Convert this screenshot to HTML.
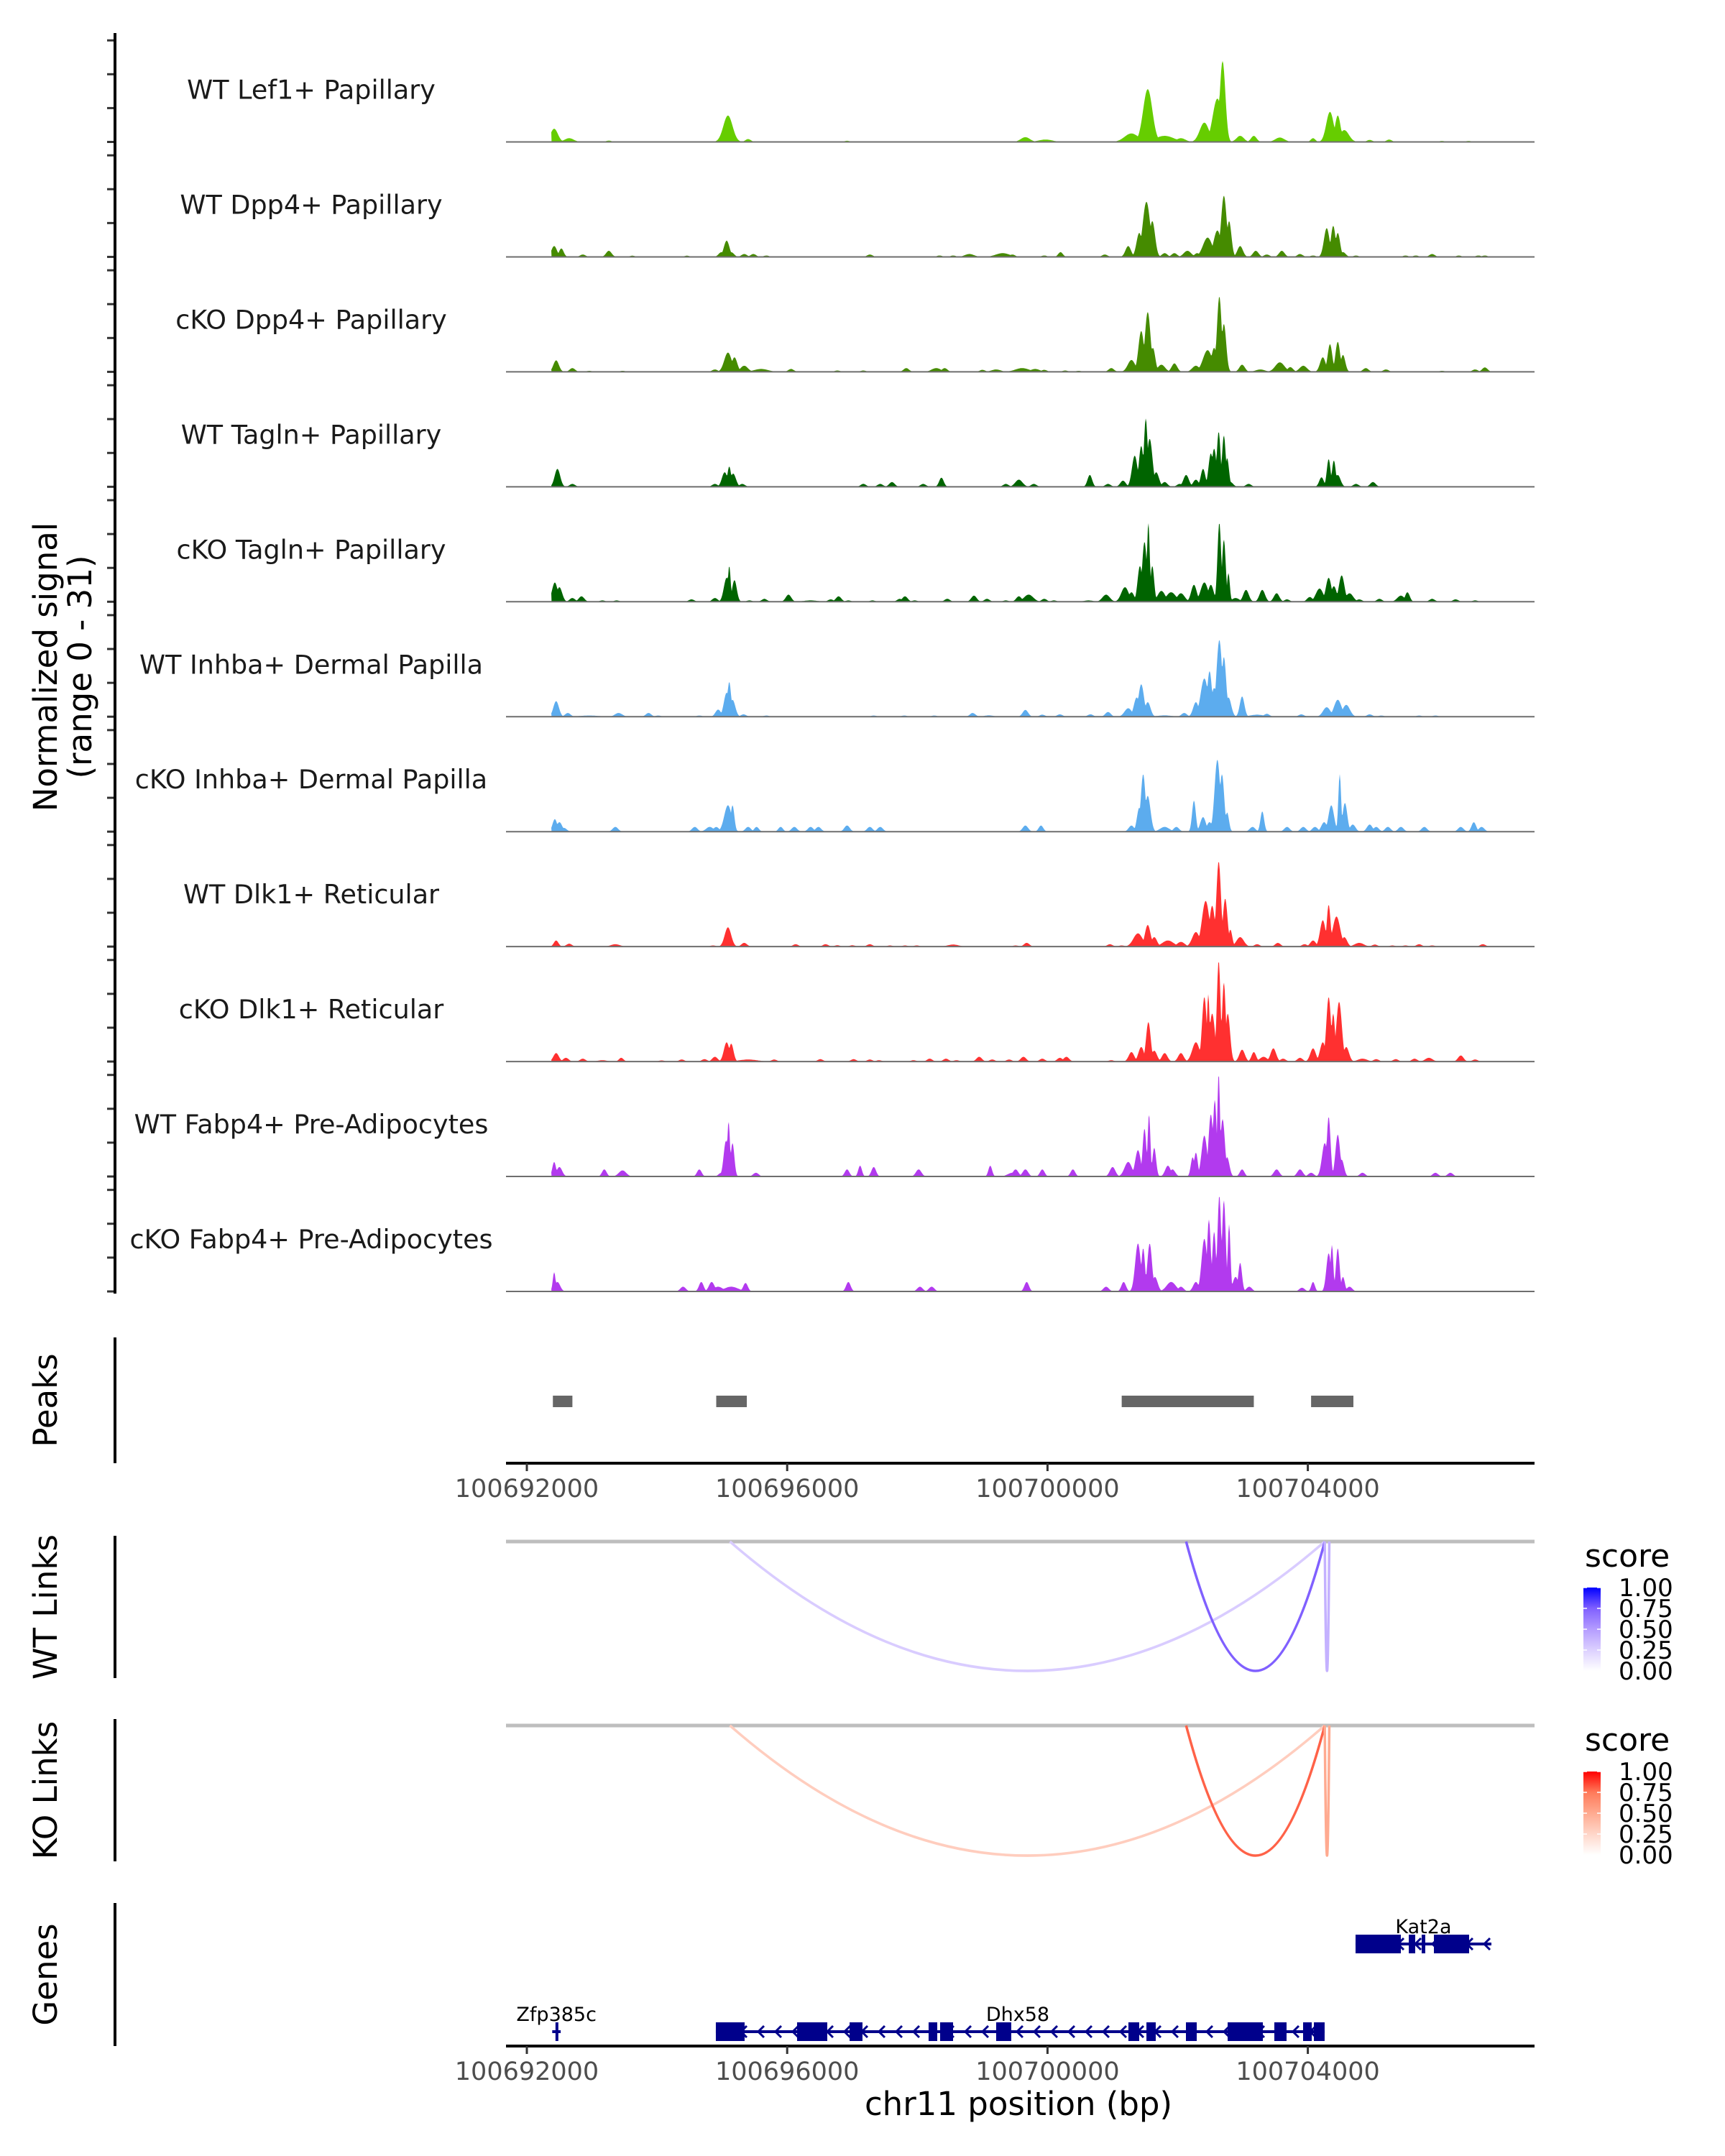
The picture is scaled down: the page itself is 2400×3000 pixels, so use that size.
<!DOCTYPE html>
<html><head><meta charset="utf-8"><style>
html,body{margin:0;padding:0;background:#fff;}
svg{display:block;}
text{font-family:"DejaVu Sans","Liberation Sans",sans-serif;}
</style></head><body>
<svg id="fig" xmlns="http://www.w3.org/2000/svg" width="2400" height="3000" viewBox="0 0 2400 3000">
<rect x="0" y="0" width="2400" height="3000" fill="#fff"/>
<g id="tracks"></g>
<g id="lower"></g>
</svg>
<script>
// ---- data (positions in kb offset from 100,690,000; signal 0-31; width in bp) ----
const trackNames = ["WT Lef1+ Papillary","WT Dpp4+ Papillary","cKO Dpp4+ Papillary","WT Tagln+ Papillary","cKO Tagln+ Papillary","WT Inhba+ Dermal Papilla","cKO Inhba+ Dermal Papilla","WT Dlk1+ Reticular","cKO Dlk1+ Reticular","WT Fabp4+ Pre-Adipocytes","cKO Fabp4+ Pre-Adipocytes"];
const trackColors = ["#66CD00","#458B00","#458B00","#006400","#006400","#5CACEE","#5CACEE","#FF3030","#FF3030","#B23AEE","#B23AEE"];
const lef1WT = [[2.42,3.9,80],[2.65,1.1,100],[3.26,0.4,60],[5.09,7.8,100],[5.40,0.85,60],[6.92,0.35,60],[9.66,1.4,100],[9.97,0.7,150],[11.29,2.5,150],[11.54,15.6,100],[11.80,1.8,200],[12.05,1.1,100],[12.41,5.7,100],[12.56,7.4,50],[12.61,12.8,100],[12.69,23.9,60],[12.96,1.8,80],[13.17,1.8,60],[13.57,1.3,100],[14.08,1.1,50],[14.34,8.9,80],[14.46,7.8,60],[14.56,3.5,100],[14.95,0.6,60],[15.25,0.7,60],[16.06,0.3,60],[16.47,0.3,60]];
const dpp4WT = [[2.42,3.2,60],[2.53,2.5,50],[2.86,0.7,60],[3.26,1.8,60],[3.62,0.35,60],[4.46,0.35,60],[4.99,1.4,60],[5.07,4.8,60],[5.14,1.4,60],[5.34,0.85,60],[5.48,0.85,60],[5.68,0.4,60],[7.27,0.7,60],[8.34,0.4,60],[8.55,0.4,60],[8.80,0.85,100],[9.31,1.1,150],[9.46,0.7,60],[9.95,0.4,60],[10.20,1.4,50],[10.88,0.7,60],[11.24,3.2,60],[11.41,7.1,60],[11.52,16.3,80],[11.61,10.6,60],[11.80,1.1,60],[11.95,1.1,60],[12.15,1.8,80],[12.30,1.1,60],[12.46,5.7,100],[12.61,7.8,80],[12.71,18.1,60],[12.79,10.6,50],[12.96,3.2,60],[13.20,1.8,60],[13.37,0.7,60],[13.60,1.8,60],[13.88,0.85,60],[14.08,0.4,60],[14.29,8.5,60],[14.39,9.2,50],[14.46,7.1,50],[14.54,1.4,60],[14.74,0.4,60],[15.50,0.4,60],[15.66,0.4,60],[15.91,0.85,60],[16.32,0.4,60],[16.62,0.4,60],[16.72,0.4,60]];
const dpp4KO = [[2.45,3.4,60],[2.70,1.1,60],[2.96,0.3,60],[3.47,0.3,60],[4.89,0.7,60],[5.09,5.7,80],[5.19,4.3,60],[5.34,1.8,80],[5.60,0.85,150],[6.06,0.85,60],[6.77,0.4,60],[7.17,0.4,60],[7.83,1.1,60],[8.29,1.1,100],[8.42,1.1,60],[9.00,0.6,60],[9.21,0.7,100],[9.61,1.1,150],[9.81,0.85,100],[9.95,0.6,60],[10.27,0.4,60],[10.48,0.3,60],[10.98,1.1,60],[11.29,3.5,80],[11.44,12.1,60],[11.54,17.7,60],[11.62,7.1,50],[11.75,2.1,80],[11.95,2.5,60],[12.28,1.8,80],[12.46,6.4,100],[12.56,7.1,60],[12.64,22.3,50],[12.71,14.2,50],[12.99,2.1,60],[13.27,0.7,100],[13.57,2.8,100],[13.73,1.4,60],[13.93,1.8,80],[14.23,4.3,60],[14.34,8.2,50],[14.46,8.9,50],[14.54,5.0,50],[14.89,1.1,60],[15.20,0.7,60],[16.06,0.3,60],[16.57,0.7,60],[16.72,1.3,60]];
const taglnWT = [[2.47,5.3,60],[2.70,0.85,60],[4.89,0.85,60],[5.04,4.3,60],[5.11,6.0,40],[5.17,3.9,60],[5.31,0.85,60],[7.17,0.85,60],[7.43,0.85,60],[7.61,1.4,60],[8.09,0.85,60],[8.37,2.7,50],[9.36,0.85,60],[9.56,2.1,80],[9.79,0.85,60],[10.65,3.5,50],[10.93,0.85,60],[11.16,1.8,60],[11.34,9.2,60],[11.44,12.1,50],[11.51,20.2,40],[11.57,14.2,60],[11.67,4.3,60],[11.80,1.4,60],[12.03,0.85,60],[12.13,3.5,60],[12.28,2.1,60],[12.39,5.3,50],[12.51,9.9,50],[12.56,11.3,50],[12.63,16.3,40],[12.71,15.2,40],[12.76,8.5,40],[12.81,1.4,60],[13.09,0.85,60],[14.21,2.8,50],[14.32,8.2,40],[14.40,7.8,40],[14.46,3.5,60],[14.74,0.85,60],[15.00,1.4,60]];
const taglnKO = [[2.43,5.7,60],[2.50,4.3,60],[2.70,1.1,60],[2.84,1.6,60],[3.16,0.4,60],[3.38,0.4,60],[4.53,0.7,60],[4.89,1.1,60],[5.07,7.1,60],[5.11,10.6,30],[5.19,6.4,50],[5.42,0.4,60],[5.65,0.85,60],[6.02,2.1,60],[6.36,0.4,150],[6.67,0.7,60],[6.79,1.6,60],[6.94,0.4,60],[7.31,0.4,60],[7.73,0.85,60],[7.81,1.6,60],[7.96,0.4,60],[8.46,0.85,60],[8.87,1.8,60],[9.07,0.85,60],[9.36,0.4,60],[9.56,1.6,60],[9.71,2.1,100],[9.95,0.85,60],[10.10,0.4,60],[10.63,0.4,100],[10.90,2.1,80],[11.19,4.3,80],[11.29,2.8,60],[11.42,10.6,50],[11.49,17.7,50],[11.55,23.4,30],[11.61,10.6,40],[11.75,3.2,80],[11.90,2.8,100],[12.05,2.5,80],[12.25,5.0,60],[12.41,5.7,80],[12.51,5.0,60],[12.64,23.4,40],[12.71,18.4,40],[12.78,8.5,30],[12.89,1.1,80],[13.05,3.5,60],[13.30,3.5,60],[13.52,2.5,60],[13.68,0.7,60],[14.03,1.4,60],[14.18,3.9,80],[14.32,7.1,60],[14.40,4.6,60],[14.52,7.8,60],[14.64,2.5,80],[14.79,0.7,60],[15.10,0.85,60],[15.43,1.8,80],[15.53,2.8,50],[15.91,0.85,60],[16.27,0.7,60],[16.57,0.4,60]];
const inhbaWT = [[2.45,4.6,60],[2.63,1.1,60],[2.96,0.35,200],[3.41,1.1,80],[3.87,1.1,60],[4.02,0.35,60],[4.65,0.35,60],[4.94,2.1,60],[5.07,7.1,60],[5.11,10.3,40],[5.16,5.0,60],[5.33,0.7,60],[5.68,0.35,60],[7.33,0.35,60],[7.80,0.35,60],[8.26,0.35,60],[8.85,1.1,60],[9.10,0.4,100],[9.66,2.0,60],[9.92,0.6,60],[10.19,0.7,60],[10.66,0.7,60],[10.93,1.4,60],[11.24,2.5,80],[11.37,5.7,60],[11.44,9.6,60],[11.54,4.3,60],[11.80,0.4,150],[12.10,1.1,60],[12.28,4.3,60],[12.41,11.3,80],[12.49,13.5,50],[12.56,8.5,60],[12.64,22.7,60],[12.71,17.7,50],[12.78,5.7,60],[12.99,6.0,50],[13.22,0.6,150],[13.37,0.85,60],[13.90,0.7,60],[14.29,2.8,80],[14.46,5.0,80],[14.59,3.5,80],[14.95,0.7,60],[15.13,0.35,60],[15.71,0.35,60],[15.96,0.35,60]];
const inhbaKO = [[2.43,3.7,50],[2.50,2.8,60],[2.57,1.1,60],[3.36,1.4,60],[4.58,1.4,60],[4.81,1.4,80],[4.91,1.4,60],[5.09,7.8,80],[5.16,7.8,40],[5.40,1.4,60],[5.53,1.4,50],[5.90,1.4,50],[6.11,1.4,60],[6.36,1.4,60],[6.48,1.4,60],[6.92,1.8,60],[7.27,1.4,60],[7.43,1.4,60],[9.66,1.8,60],[9.90,1.8,50],[11.29,1.8,60],[11.41,7.1,50],[11.47,17.0,50],[11.54,10.6,60],[11.80,1.4,100],[11.98,1.4,60],[12.25,9.2,40],[12.39,4.3,60],[12.49,2.8,60],[12.61,21.3,60],[12.68,17.0,50],[12.76,5.7,40],[13.15,1.4,60],[13.30,6.0,40],[13.68,1.4,60],[13.93,1.4,60],[14.11,1.4,60],[14.25,2.8,60],[14.36,7.8,60],[14.49,17.0,30],[14.57,8.5,50],[14.69,2.1,60],[14.95,2.1,60],[15.05,1.4,60],[15.23,1.4,60],[15.43,1.4,60],[15.79,1.4,60],[16.35,1.4,60],[16.55,2.8,50],[16.67,1.4,60]];
const dlk1WT = [[2.45,1.8,50],[2.65,0.85,60],[3.36,0.7,100],[4.86,0.35,60],[5.09,5.7,70],[5.34,1.1,60],[6.13,0.7,60],[6.59,0.7,60],[6.77,0.4,60],[7.00,0.4,60],[7.27,0.7,60],[7.58,0.35,60],[7.81,0.35,60],[7.99,0.35,60],[8.55,0.6,120],[9.51,0.35,60],[9.68,1.1,60],[10.96,0.7,60],[11.14,0.35,60],[11.39,3.9,100],[11.54,6.4,60],[11.64,2.8,60],[11.85,1.8,120],[12.05,1.4,80],[12.28,4.3,80],[12.43,13.5,80],[12.53,12.1,60],[12.63,25.2,50],[12.73,14.2,50],[12.81,5.0,40],[12.96,2.8,80],[13.22,0.7,60],[13.54,1.1,60],[13.95,0.7,60],[14.08,1.8,60],[14.23,7.8,60],[14.32,12.4,40],[14.44,8.9,80],[14.56,2.8,60],[14.79,1.1,100],[15.03,0.6,60],[15.30,0.35,60],[15.50,0.35,60],[15.71,0.7,60],[15.91,0.35,60],[16.69,0.7,60]];
const dlk1KO = [[2.45,2.5,60],[2.60,1.1,60],[2.86,0.85,60],[3.16,0.4,100],[3.45,1.1,50],[4.07,0.35,60],[4.38,0.6,60],[4.73,0.7,60],[4.89,1.4,60],[5.07,5.7,60],[5.14,5.3,50],[5.40,0.6,200],[5.80,0.6,60],[6.51,0.7,60],[7.02,0.7,60],[7.27,0.6,60],[7.41,0.4,60],[7.94,0.4,60],[8.19,0.85,60],[8.44,0.85,60],[8.60,0.4,60],[8.95,1.4,60],[9.15,0.6,60],[9.41,0.6,60],[9.63,1.4,60],[9.92,0.85,60],[10.19,1.1,60],[10.29,1.4,60],[10.98,0.4,60],[11.29,2.8,60],[11.44,4.3,60],[11.55,11.7,50],[11.64,3.2,60],[11.80,2.5,60],[12.05,2.5,60],[12.28,5.7,80],[12.41,19.1,50],[12.47,19.9,30],[12.53,14.2,60],[12.63,29.8,40],[12.71,23.4,40],[12.77,14.2,50],[12.99,3.5,60],[13.17,2.8,50],[13.32,1.4,80],[13.47,3.9,60],[13.62,0.85,60],[13.88,1.1,60],[14.08,3.9,60],[14.23,5.7,60],[14.32,19.1,50],[14.39,14.2,40],[14.48,17.7,60],[14.59,4.3,60],[14.84,0.85,100],[15.05,0.7,60],[15.35,0.7,60],[15.64,0.85,60],[15.86,1.1,80],[16.35,1.8,60],[16.57,0.6,60]];
const fabp4WT = [[2.42,4.3,40],[2.50,2.8,60],[3.19,2.1,50],[3.47,1.8,80],[4.65,2.1,50],[4.99,1.1,60],[5.06,10.6,50],[5.10,16.3,30],[5.16,9.9,40],[5.52,1.1,60],[6.92,2.1,50],[7.12,3.2,40],[7.33,2.8,50],[8.02,2.1,60],[9.12,3.2,40],[9.46,1.1,100],[9.51,2.1,60],[9.66,2.1,60],[9.92,2.1,50],[10.39,2.1,50],[11.00,2.8,60],[11.24,4.3,80],[11.39,7.8,60],[11.49,14.2,40],[11.56,18.4,30],[11.64,8.5,40],[11.85,3.2,60],[11.92,2.1,60],[12.23,5.7,40],[12.28,7.1,40],[12.41,12.1,60],[12.51,18.4,50],[12.57,22.7,40],[12.63,30.5,30],[12.69,17.0,50],[12.76,5.7,50],[12.99,2.1,50],[13.52,2.1,60],[13.88,2.1,60],[14.05,1.1,60],[14.26,9.9,60],[14.32,17.7,40],[14.46,12.4,50],[14.52,5.0,50],[14.84,1.1,60],[15.96,1.1,60],[16.19,1.1,60]];
const fabp4KO = [[2.42,5.7,30],[2.47,2.8,60],[4.40,1.4,60],[4.68,2.8,50],[4.84,2.8,60],[4.94,1.4,100],[5.14,1.4,150],[5.36,2.5,50],[6.94,2.8,50],[8.04,1.4,60],[8.22,1.4,60],[9.68,2.8,50],[10.90,1.4,60],[11.17,2.8,50],[11.39,14.2,60],[11.47,12.8,40],[11.57,14.2,50],[11.65,4.3,60],[11.90,2.8,100],[12.05,1.4,60],[12.28,2.8,60],[12.41,15.6,60],[12.48,21.3,40],[12.56,17.7,40],[12.64,28.4,40],[12.71,27.0,40],[12.79,19.9,30],[12.89,4.3,60],[12.96,8.5,40],[13.10,1.4,60],[13.91,1.1,60],[14.08,2.8,40],[14.32,11.3,50],[14.37,13.8,30],[14.46,12.8,40],[14.54,4.3,40],[14.64,1.4,60]];
const trackData = [lef1WT,dpp4WT,dpp4KO,taglnWT,taglnKO,inhbaWT,inhbaKO,dlk1WT,dlk1KO,fabp4WT,fabp4KO];
const yTickValues = [0,10,20,30];
const xTickValues = [100692000,100696000,100700000,100704000];
const peakStarts = [2.40,4.91,11.14,14.05];
const peakEnds = [2.70,5.38,13.17,14.70];
const wtLinkStarts = [5.12,12.13,14.26];
const wtLinkEnds = [14.26,14.26,14.33];
const wtLinkScores = [0.27,0.75,0.4];
const koLinkStarts = [5.12,12.13,14.26];
const koLinkEnds = [14.26,14.26,14.33];
const koLinkScores = [0.3,0.8,0.5];
const legendTicks = ["1.00","0.75","0.50","0.25","0.00"];
const dhx58Exons = [[4.904,5.346],[6.152,6.616],[6.959,7.157],[8.173,8.306],[8.350,8.549],[9.211,9.443],[11.243,11.409],[11.520,11.663],[12.127,12.293],[12.768,13.309],[13.485,13.673],[13.927,14.060],[14.093,14.258]];
const kat2aExons = [[14.733,15.429],[15.551,15.650],[15.749,15.804],[15.937,16.478]];
const genes = [{name:"Dhx58",start:4.904,end:14.258,exons:dhx58Exons,row:1},{name:"Kat2a",start:14.733,end:16.820,exons:kat2aExons,row:0},{name:"Zfp385c",start:2.39,end:2.52,exons:[[2.44,2.48]],row:1}];

// ---- scales ----
const PX0 = 704, PX1 = 2135;
function xs(kb){ return 733 + (kb - 2.0) * 90.55; }
function xsBp(bp){ return xs((bp - 100690000) / 1000); }
const TRACK_BASE0 = 197.5, TRACK_STEP = 159.95, Y_PER_UNIT = 4.71;
function ys(i, v){ return TRACK_BASE0 + i * TRACK_STEP - v * Y_PER_UNIT; }
const NS = "http://www.w3.org/2000/svg";
function mk(tag, attrs, parent){ const e = document.createElementNS(NS, tag); for (const k in attrs) e.setAttribute(k, attrs[k]); parent.appendChild(e); return e; }
const T = document.getElementById("tracks");
const L = document.getElementById("lower");

// ---- coverage tracks ----
trackData.forEach((peaks, i) => {
  const g = mk("g", {}, T);
  
  
  const base = ys(i, 0);
  let d = "M" + xs(2.38).toFixed(1) + " " + base;
  for (let px = Math.round(xs(2.38)); px <= Math.round(xs(16.80)); px++){
    const kb = 2.0 + (px - 733) / 90.55;
    let v = 0;
    for (const p of peaks){ const dd = (kb - p[0]) * 1000 / p[2]; if (Math.abs(dd) < 4){ const s = p[1] * Math.exp(-dd*dd); if (s > v) v = s; } }
    if (v < 0.06) v = 0;
    d += "L" + px + " " + ys(i, v).toFixed(1);
  }
  d += "L" + xs(16.80).toFixed(1) + " " + base + "Z";
  const area = mk("path", {d: d, fill: trackColors[i], stroke: "none"}, g);
  
  
  const bl = mk("line", {x1: PX0, x2: PX1, y1: base, y2: base, stroke: "#6e6e6e", "stroke-width": 2}, g);
  
  
  const lab = mk("text", {x: 433, y: base - 60, "text-anchor": "middle", "font-size": 36.5, fill: "#1a1a1a"}, g);
  lab.textContent = trackNames[i];
  
  
  yTickValues.forEach(t => {
    const tk = mk("line", {x1: 149, x2: 160, y1: ys(i, t), y2: ys(i, t), stroke: "#333", "stroke-width": 3}, g);
    
    
  });
});
const yaxis = mk("line", {x1: 160, x2: 160, y1: 46, y2: 1800, stroke: "#000", "stroke-width": 4}, T);


const yt = mk("text", {transform: "translate(79,928) rotate(-90)", "text-anchor": "middle", "font-size": 45, fill: "#000"}, T);
yt.textContent = "Normalized signal";


const yt2 = mk("text", {transform: "translate(127,928) rotate(-90)", "text-anchor": "middle", "font-size": 45, fill: "#000"}, T);
yt2.textContent = "(range 0 - 31)";



// ---- side panel labels + axes ----
function sidePanel(name, label, y0, y1){
  const a = mk("line", {x1: 160, x2: 160, y1: y0, y2: y1, stroke: "#000", "stroke-width": 4}, L);
  
  
  const t = mk("text", {transform: "translate(79," + ((y0 + y1) / 2) + ") rotate(-90)", "text-anchor": "middle", "font-size": 45, fill: "#000"}, L);
  t.textContent = label;
  
  
}
sidePanel("peaks", "Peaks", 1861, 2036);
sidePanel("wt-links", "WT Links", 2137, 2335);
sidePanel("ko-links", "KO Links", 2392, 2590);
sidePanel("genes", "Genes", 2648, 2847);

// ---- peaks ----
peakStarts.forEach((s, k) => {
  const r = mk("rect", {x: xs(s), y: 1942, width: xs(peakEnds[k]) - xs(s), height: 16, fill: "#666"}, L);
  
  
});

// ---- x axes ----
function xAxis(name, y){
  const a = mk("line", {x1: PX0, x2: PX1, y1: y, y2: y, stroke: "#000", "stroke-width": 4}, L);
  
  
  xTickValues.forEach(v => {
    const x = xsBp(v);
    const tk = mk("line", {x1: x, x2: x, y1: y, y2: y + 11, stroke: "#333", "stroke-width": 3}, L);
    
    
    const tl = mk("text", {x: x, y: y + 47, "text-anchor": "middle", "font-size": 35, fill: "#4d4d4d"}, L);
    tl.textContent = String(v);
    
    
  });
}
xAxis("peaks-x-axis", 2036);
xAxis("genes-x-axis", 2847);
const xt = mk("text", {x: 1417, y: 2943, "text-anchor": "middle", "font-size": 45, fill: "#000"}, L);
xt.textContent = "chr11 position (bp)";



// ---- links ----
function lerpColor(stops, s){
  const n = stops.length - 1; const p = Math.max(0, Math.min(1, s)) * n; const k = Math.min(n - 1, Math.floor(p)); const f = p - k;
  const a = stops[k], b = stops[k + 1];
  return "rgb(" + [0,1,2].map(j => Math.round(a[j] + (b[j] - a[j]) * f)).join(",") + ")";
}
const blueStops = [[255,255,255],[220,208,255],[180,156,255],[128,96,255],[0,0,255]];
const redStops = [[255,255,255],[255,214,201],[255,170,144],[255,122,90],[255,0,0]];
function linkPanel(name, top, bottom, starts, ends, scores, stops, gradId, legTop){
  const bl = mk("line", {x1: PX0, x2: PX1, y1: top, y2: top, stroke: "#bebebe", "stroke-width": 5}, L);
  
  
  starts.forEach((s, k) => {
    const x0 = xs(s), x1 = xs(ends[k]), xm = (x0 + x1) / 2;
    const depth = bottom - top;
    const p = mk("path", {d: "M" + x0 + " " + top + " Q" + xm + " " + (top + 2 * depth) + " " + x1 + " " + top, fill: "none", stroke: lerpColor(stops, scores[k]), "stroke-width": 3.5}, L);
    
    
  });
  const defs = mk("defs", {}, L);
  const lg = mk("linearGradient", {id: gradId, x1: 0, y1: 1, x2: 0, y2: 0}, defs);
  stops.forEach((c, k) => mk("stop", {offset: (k / (stops.length - 1)), "stop-color": "rgb(" + c.join(",") + ")"}, lg));
  const title = mk("text", {x: 2205, y: legTop - 29, "font-size": 44, fill: "#000"}, L);
  title.textContent = "score";
  
  
  const bar = mk("rect", {x: 2203, y: legTop, width: 24, height: 116, fill: "url(#" + gradId + ")"}, L);
  
  
  legendTicks.forEach((t, k) => {
    const yy = legTop + k * 29;
    mk("line", {x1: 2203, x2: 2208, y1: yy, y2: yy, stroke: "#fff", "stroke-width": 1.5}, L);
    mk("line", {x1: 2222, x2: 2227, y1: yy, y2: yy, stroke: "#fff", "stroke-width": 1.5}, L);
    const tl = mk("text", {x: 2252, y: yy + 12, "font-size": 34, fill: "#000"}, L);
    tl.textContent = t;
    
    
  });
}
linkPanel("wt-links", 2145, 2325, wtLinkStarts, wtLinkEnds, wtLinkScores, blueStops, "gBlue", 2209);
linkPanel("ko-links", 2401, 2582, koLinkStarts, koLinkEnds, koLinkScores, redStops, "gRed", 2465);

// ---- genes ----
const GENE_COLOR = "#00008B";
const rowY = [2705, 2827];
genes.forEach(gn => {
  const g = mk("g", {}, L);
  
  
  const y = rowY[gn.row];
  const x0 = xs(gn.start), x1 = xs(gn.end);
  mk("line", {x1: x0, x2: x1, y1: y, y2: y, stroke: GENE_COLOR, "stroke-width": 4}, g);
  for (let x = x0 + 14; x < x1 - 4; x += 24){
    mk("polyline", {points: (x + 5) + "," + (y - 8) + " " + (x - 3) + "," + y + " " + (x + 5) + "," + (y + 8), fill: "none", stroke: GENE_COLOR, "stroke-width": 3}, g);
  }
  gn.exons.forEach(e => {
    const r = mk("rect", {x: xs(e[0]), y: y - 13, width: Math.max(4, xs(e[1]) - xs(e[0])), height: 26, fill: GENE_COLOR}, g);
    
    
  });
  const t = mk("text", {x: (gn.name === "Dhx58" ? 1416 : (x0 + x1) / 2), y: y - 15, "text-anchor": "middle", "font-size": 27, fill: "#000"}, g);
  t.textContent = gn.name;
  
  
});
</script>
</body></html>
